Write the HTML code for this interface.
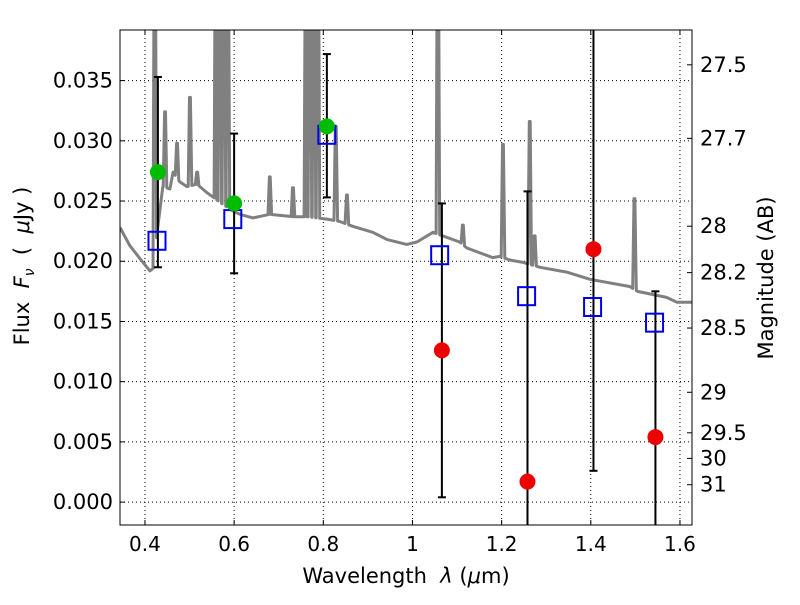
<!DOCTYPE html>
<html><head><meta charset="utf-8"><style>
html,body{margin:0;padding:0;background:#fff;}
svg text{font-family:"DejaVu Sans","Liberation Sans",sans-serif;}
</style></head><body>
<svg id="chart" width="800" height="600" xmlns="http://www.w3.org/2000/svg">
<rect width="800" height="600" fill="#fff"/>
<defs><clipPath id="clip"><rect x="120" y="30" width="572" height="495"/></clipPath></defs>
<g id="grid"></g>
<g id="plot" clip-path="url(#clip)"></g>
<rect x="120" y="30" width="572" height="495" fill="none" stroke="#000" stroke-width="1"/>
<g id="axes"></g>
<text x="406" y="583" font-size="21" text-anchor="middle">Wavelength&#160;&#160;<tspan font-style="italic">λ</tspan> (<tspan font-style="italic">μ</tspan>m)</text>
<text transform="translate(29,266) rotate(-90)" font-size="21" text-anchor="middle">Flux&#160;&#160;<tspan font-style="italic">F</tspan><tspan font-style="italic" font-size="14" dy="5">ν</tspan><tspan dy="-5">&#160;&#160;(&#160;&#160;</tspan><tspan font-style="italic">μ</tspan>Jy&#160;)</text>
<text transform="translate(773,278) rotate(-90)" font-size="21" text-anchor="middle">Magnitude (AB)</text>
</svg>
<script>
const xTicks=[0.4,0.6,0.8,1.0,1.2,1.4,1.6];
const xTickLabels=["0.4","0.6","0.8","1","1.2","1.4","1.6"];
const yTicks=[0,0.005,0.01,0.015,0.02,0.025,0.03,0.035];
const yTickLabels=["0.000","0.005","0.010","0.015","0.020","0.025","0.030","0.035"];
const magTicks=[27.5,27.7,28,28.2,28.5,29,29.5,30,31];
const contWl=[0.344,0.366,0.389,0.411,0.418,0.429,0.440,0.456,0.463,0.478,0.494,0.517,0.539,0.561,0.591,0.613,0.642,0.680,0.732,0.763,0.808,0.837,0.866,0.911,0.943,0.987,1.010,1.046,1.068,1.106,1.122,1.180,1.196,1.218,1.248,1.286,1.346,1.398,1.487,1.505,1.570,1.593,1.630];
const contFlux=[0.0228,0.0213,0.0202,0.0192,0.0194,0.0229,0.0262,0.0260,0.0274,0.0266,0.0262,0.0264,0.0257,0.0251,0.0243,0.0239,0.0236,0.0239,0.0237,0.0237,0.0235,0.0233,0.0229,0.0224,0.0218,0.0214,0.0216,0.0224,0.0221,0.0216,0.0211,0.0203,0.0204,0.0201,0.0199,0.0195,0.0191,0.0185,0.0179,0.0175,0.0170,0.0166,0.0166];
const lineWl=[0.422,0.445,0.472,0.501,0.517,0.559,0.568,0.577,0.586,0.680,0.732,0.761,0.770,0.779,0.788,0.828,0.853,1.057,1.113,1.203,1.263,1.274,1.498];
const lineFlux=[0.05,0.0324,0.0298,0.0336,0.0274,0.05,0.05,0.05,0.05,0.0270,0.0261,0.05,0.05,0.05,0.05,0.0312,0.0255,0.05,0.0230,0.0297,0.0316,0.0221,0.0252];
const modelWl=[0.427,0.597,0.808,1.061,1.256,1.404,1.543];
const modelFlux=[0.0217,0.0235,0.0305,0.0205,0.0171,0.0162,0.0149];
const obsWl=[0.429,0.600,0.808,1.066,1.258,1.406,1.545];
const obsFlux=[0.0274,0.0248,0.0312,0.0126,0.0017,0.0210,0.0054];
const obsUpper=[0.0353,0.0306,0.0372,0.0248,0.0258,0.045,0.0175];
const obsLower=[0.0195,0.0190,0.0253,0.0004,-0.005,0.0026,-0.005];
const obsColor=["#00bb00","#00bb00","#00bb00","#ee0000","#ee0000","#ee0000","#ee0000"];

const NS="http://www.w3.org/2000/svg";
const X0=120,X1=692,Y0=525,Y1=30,xmin=0.344,xmax=1.627,ymin=-0.0019,ymax=0.0392;
const sx=v=>X0+(v-xmin)/(xmax-xmin)*(X1-X0);
const sy=v=>Y0-(v-ymin)/(ymax-ymin)*(Y0-Y1);
function mk(tag,attrs,parent){const e=document.createElementNS(NS,tag);for(const k in attrs)e.setAttribute(k,attrs[k]);parent.appendChild(e);return e;}
const grid=document.getElementById('grid'),plot=document.getElementById('plot'),axes=document.getElementById('axes');

xTicks.forEach((t,i)=>{const x=sx(t);
 const g=mk('line',{x1:x,x2:x,y1:Y1,y2:Y0,stroke:'#000','stroke-width':1,'stroke-dasharray':'1,3'},grid);
 
 mk('line',{x1:x,x2:x,y1:Y0,y2:Y0-5,stroke:'#000'},axes);mk('line',{x1:x,x2:x,y1:Y1,y2:Y1+5,stroke:'#000'},axes);
 const tx=mk('text',{x:x,y:Y0+26,'font-size':20,'text-anchor':'middle'},axes);tx.textContent=xTickLabels[i];
 });
yTicks.forEach((t,i)=>{const y=sy(t);
 const g=mk('line',{x1:X0,x2:X1,y1:y,y2:y,stroke:'#000','stroke-width':1,'stroke-dasharray':'1,3'},grid);
 
 mk('line',{x1:X0,x2:X0+5,y1:y,y2:y,stroke:'#000'},axes);
 const tx=mk('text',{x:X0-7,y:y+7,'font-size':21,'text-anchor':'end'},axes);tx.textContent=yTickLabels[i];
 });
magTicks.forEach(m=>{const f=Math.pow(10,(23.9-m)/2.5);const y=sy(f);
 mk('line',{x1:X1,x2:X1-5,y1:y,y2:y,stroke:'#000'},axes);
 const tx=mk('text',{x:X1+8,y:y+7,'font-size':21,'text-anchor':'start'},axes);tx.textContent=String(m);
 });

function cont(w){for(let i=0;i<contWl.length-1;i++){if(w<=contWl[i+1])return contFlux[i]+(contFlux[i+1]-contFlux[i])*(w-contWl[i])/(contWl[i+1]-contWl[i]);}return contFlux[contFlux.length-1];}
let pts=contWl.map((w,i)=>[w,contFlux[i]]);
lineWl.forEach((w,i)=>{pts.push([w-0.004,cont(w-0.004)]);pts.push([w-0.001,lineFlux[i]]);pts.push([w+0.001,lineFlux[i]]);pts.push([w+0.004,cont(w+0.004)]);});
pts.sort((a,b)=>a[0]-b[0]);
const sp=mk('polyline',{points:pts.map(p=>sx(p[0]).toFixed(1)+','+sy(p[1]).toFixed(1)).join(' '),fill:'none',stroke:'#808080','stroke-width':3,'stroke-linejoin':'round'},plot);


obsWl.forEach((w,i)=>{const x=sx(w);
 const g=mk('g',{},plot);
 mk('line',{x1:x,x2:x,y1:sy(obsUpper[i]),y2:sy(obsLower[i]),stroke:'#000','stroke-width':2},g);
 mk('line',{x1:x-4,x2:x+4,y1:sy(obsUpper[i]),y2:sy(obsUpper[i]),stroke:'#000','stroke-width':2},g);
 mk('line',{x1:x-4,x2:x+4,y1:sy(obsLower[i]),y2:sy(obsLower[i]),stroke:'#000','stroke-width':2},g);});
modelWl.forEach((w,i)=>{const r=mk('rect',{x:sx(w)-8.5,y:sy(modelFlux[i])-9,width:17,height:18,fill:'none',stroke:'#0000ee','stroke-width':2},plot);
 });
obsWl.forEach((w,i)=>{const c=mk('circle',{cx:sx(w),cy:sy(obsFlux[i]),r:8,fill:obsColor[i]},plot);
 });
</script>
</body></html>
